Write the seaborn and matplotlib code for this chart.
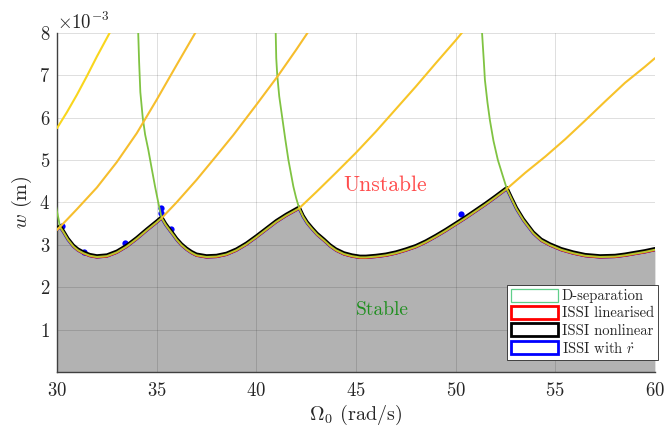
import numpy as np
import matplotlib
matplotlib.use("Agg")
import matplotlib.pyplot as plt
from matplotlib.patches import Patch
from matplotlib.transforms import offset_copy
import seaborn as sns

# stability boundary (Omega in rad/s, w in mm)
bound_omega = [30.0, 30.15, 30.32, 30.55, 30.82, 31.05, 31.32, 31.65, 32.0, 32.5, 33.0, 33.5, 34.0, 34.5, 35.0, 35.25,
               35.45, 35.67, 35.85, 36.0, 36.25, 36.5, 36.75, 37.0, 37.5, 38.0, 38.5, 39.0, 39.5, 40.0, 40.5, 41.0, 41.5, 42.15,
               42.35, 42.55, 42.8, 43.05, 43.4, 43.7, 44.0, 44.4, 44.8, 45.2, 45.5, 46.0, 46.5, 47.0, 47.5, 48.0, 48.5, 49.0,
               49.5, 50.0, 50.5, 51.0, 51.5, 52.0, 52.57, 52.81, 53.06, 53.4, 53.9, 54.3, 54.74, 55.3, 55.9, 56.5, 57.25,
               58.0, 58.5, 59.0, 59.5, 60.0]
bound_w = [3.36, 3.42, 3.30, 3.12, 2.96, 2.87, 2.80, 2.74, 2.71, 2.73, 2.82, 2.96, 3.14, 3.34, 3.53, 3.63,
           3.47, 3.33, 3.22, 3.12, 2.99, 2.89, 2.81, 2.75, 2.71, 2.72, 2.77, 2.87, 3.01, 3.18, 3.36, 3.54, 3.69, 3.86,
           3.66, 3.51, 3.37, 3.24, 3.10, 2.97, 2.87, 2.78, 2.73, 2.70, 2.70, 2.72, 2.75, 2.80, 2.87, 2.95, 3.06, 3.19,
           3.33, 3.48, 3.63, 3.79, 3.95, 4.12, 4.32, 4.08, 3.84, 3.58, 3.27, 3.10, 2.99, 2.88, 2.80, 2.74, 2.71,
           2.72, 2.75, 2.79, 2.83, 2.88]

# blips of the ISSI-with-rdot curve
blip_omega = [30.25, 31.35, 33.4, 35.2, 35.22, 35.7, 50.25]
blip_w = [3.45, 2.84, 3.03, 3.76, 3.86, 3.36, 3.72]

# D-separation branches above the boundary
green_curves = [
    ([29.9, 30.0, 30.08, 30.15], [4.05, 3.78, 3.60, 3.42]),
    ([34.07, 34.12, 34.18, 34.3, 34.42, 34.58, 34.75, 34.92, 35.1, 35.25],
     [8.05, 7.3, 6.6, 6.0, 5.6, 5.24, 4.8, 4.37, 3.95, 3.63]),
    ([40.97, 41.0, 41.05, 41.15, 41.3, 41.45, 41.61, 41.86, 42.0, 42.15],
     [8.05, 7.4, 7.0, 6.5, 6.0, 5.5, 5.0, 4.37, 4.1, 3.86]),
    ([51.32, 51.42, 51.47, 51.6, 51.72, 51.9, 52.12, 52.35, 52.57],
     [8.05, 7.3, 6.89, 6.35, 5.94, 5.45, 5.0, 4.65, 4.32]),
]
rising_curves = [
    ([30.0, 30.5, 31.0, 31.5, 32.0, 32.7], [5.75, 6.13, 6.54, 6.98, 7.44, 8.05]),
    ([30.0, 30.15, 31.0, 32.0, 33.0, 34.0, 35.0, 36.0, 37.0],
     [3.35, 3.42, 3.84, 4.35, 4.95, 5.63, 6.42, 7.24, 8.05]),
    ([35.25, 36.0, 37.0, 38.0, 38.85, 40.0, 41.11, 42.0, 42.6],
     [3.63, 4.0, 4.53, 5.1, 5.59, 6.3, 7.0, 7.6, 8.02]),
    ([42.15, 43.0, 44.0, 45.0, 46.0, 47.0, 48.0, 49.0, 50.0, 50.35],
     [3.86, 4.24, 4.7, 5.17, 5.67, 6.2, 6.73, 7.28, 7.82, 8.02]),
    ([52.57, 53.5, 54.5, 55.5, 56.5, 57.5, 58.5, 59.5, 60.0],
     [4.32, 4.7, 5.08, 5.49, 5.93, 6.38, 6.82, 7.2, 7.4]),
]
rising_colors = ['#f9d61d', '#f6be2d', '#f6bd2c', '#f7c527', '#f7c22a']

legend_labels = ['D-separation', 'ISSI linearised', 'ISSI nonlinear', r'ISSI with $\dot{r}$']
legend_colors = ['#5fcf8a', '#ff0000', '#000000', '#0000ff']

sns.set_theme(style='white')
plt.rcParams['font.family'] = ['cmr10', 'DejaVu Serif']
plt.rcParams['mathtext.fontset'] = 'cm'
plt.rcParams['axes.formatter.use_mathtext'] = True
plt.rcParams['axes.formatter.limits'] = (-2, 3)
plt.rcParams['axes.unicode_minus'] = False

fig, ax = plt.subplots(figsize=(6.71, 4.26), dpi=100)
fig.subplots_adjust(left=0.085, right=0.976, bottom=0.127, top=0.923)

mm = 1e-3
bo = np.array(bound_omega)
bw = np.array(bound_w) * mm

ax.fill_between(bo, 0, bw, color='black', alpha=0.3, lw=0, zorder=2)

up = offset_copy(ax.transData, fig=fig, x=0, y=1.3, units='dots')
down = offset_copy(ax.transData, fig=fig, x=0, y=-0.9, units='dots')

ax.plot(bo, bw, color='#0000ff', lw=2.2, zorder=3)
ax.plot(np.array(blip_omega), np.array(blip_w) * mm, 'o', color='#0000ff', ms=4.5, mew=0, zorder=3)
ax.plot(bo, bw, color='#ff0000', lw=0.8, transform=down, zorder=4)
ax.plot(bo, bw, color='black', lw=2.2, transform=up, zorder=4)
sns.lineplot(x=bo, y=bw, sort=False, estimator=None, color='#b8c22e', lw=1.5, ax=ax, zorder=5)

for om, ww in green_curves:
    sns.lineplot(x=om, y=np.array(ww) * mm, sort=False, estimator=None, color='#80c342', lw=1.3, ax=ax, zorder=5)
for (om, ww), c in zip(rising_curves, rising_colors):
    sns.lineplot(x=om, y=np.array(ww) * mm, sort=False, estimator=None, color=c, lw=1.5, ax=ax, zorder=5)

ax.text(46.45, 4.41 * mm, 'Unstable', color='#ff4d4d', fontsize=15.5, ha='center', va='center', zorder=6)
ax.text(46.3, 1.46 * mm, 'Stable', color='#1f8f1f', fontsize=14, ha='center', va='center', zorder=6)

ax.set_xlim(30, 60)
ax.set_ylim(0, 8 * mm)
ax.set_xticks(np.arange(30, 61, 5))
ax.set_yticks(np.arange(1, 9) * mm)
ax.grid(True, color='black', alpha=0.15, lw=0.6)
ax.set_axisbelow(True)
for s in ['top', 'right']:
    ax.spines[s].set_visible(False)
for s in ['left', 'bottom']:
    ax.spines[s].set_color('#404040')
    ax.spines[s].set_linewidth(1.0)
ax.tick_params(direction='in', length=5, width=0.8, colors='#262626', labelsize=13.5)
ax.tick_params(axis='x', pad=7)
ax.tick_params(axis='y', pad=5)
ax.yaxis.get_offset_text().set_fontsize(13.5)

ax.set_xlabel(r'$\Omega_0$ (rad/s)', fontsize=14.5, color='#262626', labelpad=2)
ax.set_ylabel(r'$w$ (m)', fontsize=14.5, color='#262626', labelpad=4)

handles = [Patch(facecolor='white', edgecolor=c, lw=0.9 if i == 0 else 2.0) for i, c in enumerate(legend_colors)]
leg = ax.legend(handles, legend_labels, loc='lower right', bbox_to_anchor=(658 / 671, 1 - 360 / 426),
                bbox_transform=fig.transFigure, fontsize=10.5, frameon=True, fancybox=False,
                edgecolor='#262626', framealpha=1, handlelength=3.2, handleheight=0.95, labelspacing=0.2,
                handletextpad=0.25, borderpad=0.3, borderaxespad=0)
leg.get_frame().set_linewidth(0.6)
leg.set_zorder(10)

plt.savefig('out.png', dpi=100)
